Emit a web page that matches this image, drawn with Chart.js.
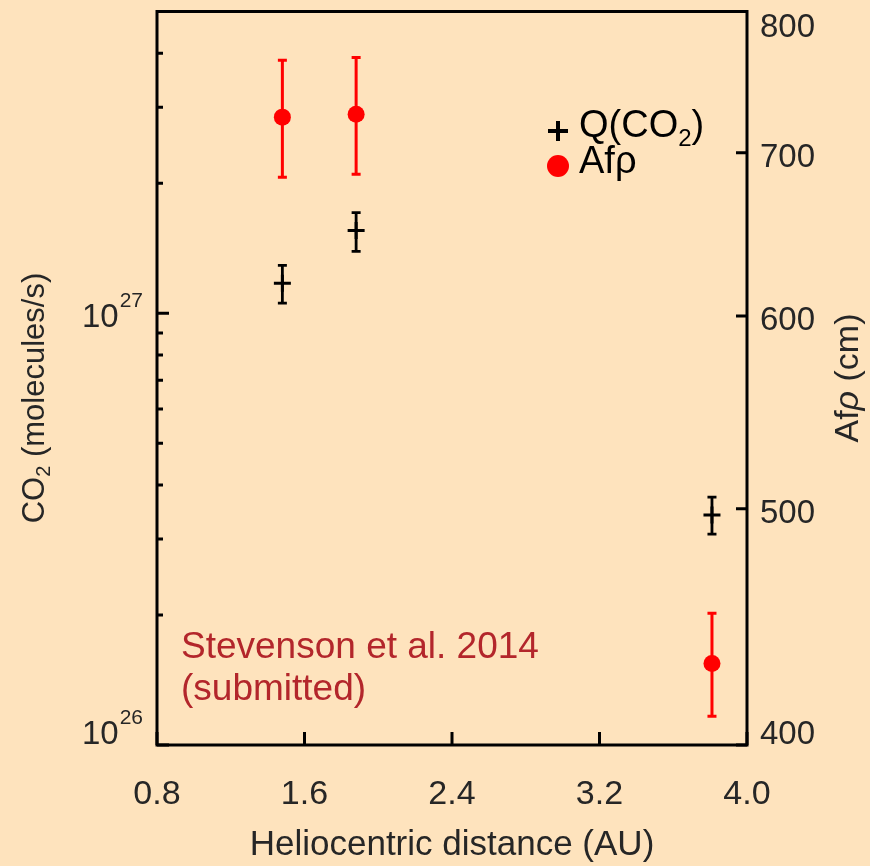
<!DOCTYPE html>
<html>
<head>
<meta charset="utf-8">
<script src="https://cdn.jsdelivr.net/npm/chart.js@4.4.1/dist/chart.umd.min.js"></script>
<style>
  html, body { margin: 0; padding: 0; background: #fee3bd; }
  #wrap { width: 870px; height: 866px; }
</style>
</head>
<body>
<div id="wrap"><canvas id="co2Chart" width="870" height="866"></canvas></div>
<script>
// heliocentric distance (AU) of each observation
var distance = [1.48, 1.88, 3.81];

// CO2 production rate (molecules/s) and its error limits
var qco2 = [1.174e27, 1.555e27, 3.41e26];
var qco2Low = [1.056e27, 1.391e27, 3.08e26];
var qco2High = [1.291e27, 1.711e27, 3.75e26];

// dust Afrho (cm) and its error limits
var afrho = [724, 726, 432];
var afrhoLow = [684, 686, 411];
var afrhoHigh = [764, 766, 453];

// axis ticks
var xTicks = [0.8, 1.6, 2.4, 3.2, 4.0];
var co2Major = [1e26, 1e27];
var co2Minor = [2e26, 3e26, 4e26, 5e26, 6e26, 7e26, 8e26, 9e26, 2e27, 3e27, 4e27];
var afrhoTicks = [400, 500, 600, 700, 800];

var FONT = '"Liberation Sans", Arial, Helvetica, sans-serif';
var INK = '#262626';

function points(ys) {
  return distance.map(function (x, i) { return { x: x, y: ys[i] }; });
}

// draws pieces [{t, size, dy, italic}] one after another from x
function drawRuns(ctx, runs, x, y) {
  runs.forEach(function (r) {
    ctx.font = (r.italic ? 'italic ' : '') + r.size + 'px ' + FONT;
    ctx.fillText(r.t, x, y + (r.dy || 0));
    x += ctx.measureText(r.t).width;
  });
}
function runsWidth(ctx, runs) {
  var w = 0;
  runs.forEach(function (r) {
    ctx.font = (r.italic ? 'italic ' : '') + r.size + 'px ' + FONT;
    w += ctx.measureText(r.t).width;
  });
  return w;
}

var errorBars = {
  id: 'errorBars',
  beforeDatasetsDraw: function (chart) {
    var ctx = chart.ctx, s = chart.scales;
    function bars(lo, hi, axis, color, lw) {
      ctx.strokeStyle = color;
      ctx.lineWidth = lw;
      distance.forEach(function (d, i) {
        var px = s.x.getPixelForValue(d);
        var y0 = s[axis].getPixelForValue(lo[i]);
        var y1 = s[axis].getPixelForValue(hi[i]);
        ctx.beginPath();
        ctx.moveTo(px, y0); ctx.lineTo(px, y1);
        ctx.moveTo(px - 4.5, y0); ctx.lineTo(px + 4.5, y0);
        ctx.moveTo(px - 4.5, y1); ctx.lineTo(px + 4.5, y1);
        ctx.stroke();
      });
    }
    ctx.save();
    bars(afrhoLow, afrhoHigh, 'y2', '#ff0000', 3);
    bars(qco2Low, qco2High, 'y', '#000000', 2.8);
    ctx.restore();
  }
};

var frame = {
  id: 'frame',
  beforeDraw: function (chart) {
    var ctx = chart.ctx;
    ctx.save();
    ctx.fillStyle = '#fee3bd';
    ctx.fillRect(0, 0, chart.width, chart.height);
    ctx.restore();
  },
  afterDraw: function (chart) {
    var ctx = chart.ctx, a = chart.chartArea, s = chart.scales;
    ctx.save();

    // box and inward ticks
    ctx.strokeStyle = '#000';
    ctx.lineWidth = 3;
    ctx.strokeRect(a.left, a.top, a.right - a.left, a.bottom - a.top);
    ctx.beginPath();
    xTicks.forEach(function (v) {
      var px = s.x.getPixelForValue(v);
      ctx.moveTo(px, a.bottom); ctx.lineTo(px, a.bottom - 13);
    });
    co2Major.forEach(function (v) {
      var py = s.y.getPixelForValue(v);
      ctx.moveTo(a.left, py); ctx.lineTo(a.left + 12, py);
    });
    co2Minor.forEach(function (v) {
      var py = s.y.getPixelForValue(v);
      ctx.moveTo(a.left, py); ctx.lineTo(a.left + 6, py);
    });
    afrhoTicks.forEach(function (v) {
      var py = s.y2.getPixelForValue(v);
      ctx.moveTo(a.right, py); ctx.lineTo(a.right - 11, py);
    });
    ctx.stroke();

    function labelY(py) {
      return Math.min(Math.max(py + 5, a.top + 16), a.bottom - 10);
    }

    ctx.fillStyle = INK;
    ctx.textBaseline = 'middle';

    // x tick labels
    ctx.font = '34px ' + FONT;
    ctx.textAlign = 'center';
    xTicks.forEach(function (v) {
      ctx.fillText(v.toFixed(1), s.x.getPixelForValue(v), 795);
    });

    // right tick labels
    ctx.font = '33px ' + FONT;
    ctx.textAlign = 'left';
    afrhoTicks.forEach(function (v) {
      ctx.fillText(String(v), a.right + 13, labelY(s.y2.getPixelForValue(v)));
    });

    // left tick labels, powers of ten
    ctx.textAlign = 'right';
    co2Major.forEach(function (v) {
      var y = labelY(s.y.getPixelForValue(v));
      var exp = String(Math.round(Math.log10(v)));
      ctx.font = '21px ' + FONT;
      var ew = ctx.measureText(exp).width;
      ctx.fillText(exp, a.left - 14, y - 17);
      ctx.font = '33px ' + FONT;
      ctx.fillText('10', a.left - 15 - ew, y);
    });

    // x title
    ctx.textAlign = 'center';
    ctx.font = '35px ' + FONT;
    ctx.fillText('Heliocentric distance (AU)', (a.left + a.right) / 2, 845);

    ctx.textAlign = 'left';
    // left title
    var leftRuns = [
      { t: 'CO', size: 31 },
      { t: '2', size: 20, dy: 9 },
      { t: ' (molecules/s)', size: 31 }
    ];
    ctx.save();
    ctx.translate(35, 398);
    ctx.rotate(-Math.PI / 2);
    drawRuns(ctx, leftRuns, -runsWidth(ctx, leftRuns) / 2, 0);
    ctx.restore();

    // right title
    var rightRuns = [
      { t: 'Af', size: 34 },
      { t: '\u03c1', size: 34, italic: true },
      { t: ' (cm)', size: 34 }
    ];
    ctx.save();
    ctx.translate(849, 378);
    ctx.rotate(-Math.PI / 2);
    drawRuns(ctx, rightRuns, -runsWidth(ctx, rightRuns) / 2, 0);
    ctx.restore();

    // legend
    ctx.strokeStyle = '#000';
    ctx.lineWidth = 4;
    ctx.beginPath();
    ctx.moveTo(548, 131); ctx.lineTo(568, 131);
    ctx.moveTo(558, 121); ctx.lineTo(558, 141);
    ctx.stroke();
    ctx.fillStyle = '#ff0000';
    ctx.beginPath();
    ctx.arc(558, 166, 11, 0, Math.PI * 2);
    ctx.fill();
    ctx.fillStyle = '#000';
    drawRuns(ctx, [
      { t: 'Q(CO', size: 38 },
      { t: '2', size: 24, dy: 12 },
      { t: ')', size: 38 }
    ], 579, 127);
    drawRuns(ctx, [{ t: 'Af\u03c1', size: 38 }], 579, 163);

    // reference note
    ctx.fillStyle = '#b3262b';
    ctx.font = '37px ' + FONT;
    ctx.fillText('Stevenson et al. 2014', 181, 648);
    ctx.fillText('(submitted)', 181, 690);

    ctx.restore();
  }
};

new Chart(document.getElementById('co2Chart').getContext('2d'), {
  type: 'scatter',
  data: {
    datasets: [
      {
        label: 'Q(CO2)',
        data: points(qco2),
        yAxisID: 'y',
        pointStyle: 'cross',
        pointRadius: 8.5,
        borderColor: '#000000',
        borderWidth: 3
      },
      {
        label: 'Af\u03c1',
        data: points(afrho),
        yAxisID: 'y2',
        pointStyle: 'circle',
        pointRadius: 8.5,
        backgroundColor: '#ff0000',
        borderColor: '#ff0000',
        borderWidth: 0
      }
    ]
  },
  options: {
    responsive: false,
    animation: false,
    layout: { padding: { left: 157, right: 123, top: 8, bottom: 121 } },
    plugins: { legend: { display: false }, tooltip: { enabled: false } },
    scales: {
      x: { type: 'linear', min: 0.8, max: 4.0, display: false },
      y: { type: 'logarithmic', min: 1e26, max: 5e27, display: false },
      y2: { type: 'logarithmic', position: 'right', min: 400, max: 800, display: false }
    }
  },
  plugins: [errorBars, frame]
});
</script>
</body>
</html>
